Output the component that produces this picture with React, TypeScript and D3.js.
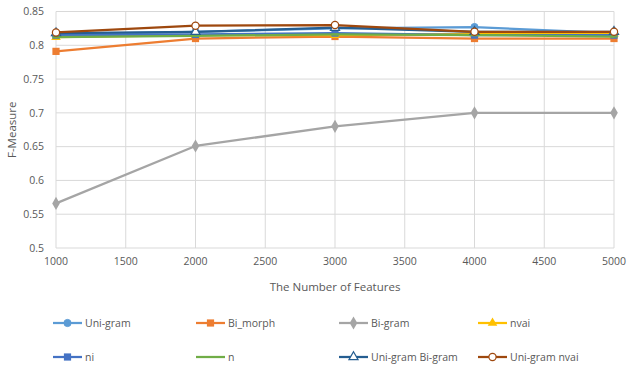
import React, { useRef, useEffect } from 'react';
import * as d3 from 'd3';

const features = [1000, 2000, 3000, 4000, 5000];
const xTicks = [1000, 1500, 2000, 2500, 3000, 3500, 4000, 4500, 5000];
const yTicks = [0.5, 0.55, 0.6, 0.65, 0.7, 0.75, 0.8, 0.85];

const uniGram = [0.816, 0.82, 0.825, 0.827, 0.818];
const biMorph = [0.791, 0.81, 0.813, 0.81, 0.81];
const biGram = [0.566, 0.651, 0.68, 0.7, 0.7];
const nvai = [0.812, 0.815, 0.815, 0.817, 0.817];
const ni = [0.815, 0.816, 0.818, 0.815, 0.815];
const nOnly = [0.812, 0.814, 0.816, 0.815, 0.813];
const uniBi = [0.818, 0.82, 0.826, 0.82, 0.82];
const uniNvai = [0.819, 0.829, 0.83, 0.82, 0.82];

type Marker = 'circle' | 'square' | 'diamond' | 'triangle' | 'dash' | 'triangleOpen' | 'circleOpen';
type Series = { name: string; values: number[]; color: string; marker: Marker };

const series: Series[] = [
  { name: 'Uni-gram', values: uniGram, color: '#5B9BD5', marker: 'circle' },
  { name: 'Bi_morph', values: biMorph, color: '#ED7D31', marker: 'square' },
  { name: 'Bi-gram', values: biGram, color: '#A5A5A5', marker: 'diamond' },
  { name: 'nvai', values: nvai, color: '#FFC000', marker: 'triangle' },
  { name: 'ni', values: ni, color: '#4472C4', marker: 'square' },
  { name: 'n', values: nOnly, color: '#70AD47', marker: 'dash' },
  { name: 'Uni-gram Bi-gram', values: uniBi, color: '#255E91', marker: 'triangleOpen' },
  { name: 'Uni-gram nvai', values: uniNvai, color: '#9E480E', marker: 'circleOpen' },
];

const W = 633;
const H = 372;
const margin = { top: 11.5, right: 19, bottom: 126, left: 56 };
const textColor = '#595959';
const font = '"Open Sans", sans-serif';

function drawMarker(g: d3.Selection<SVGGElement, unknown, null, undefined>, s: Series, x: number, y: number) {
  const c = s.color;
  switch (s.marker) {
    case 'circle':
      g.append('circle').attr('cx', x).attr('cy', y).attr('r', 3.6).attr('fill', c).attr('stroke', c);
      break;
    case 'circleOpen':
      g.append('circle').attr('cx', x).attr('cy', y).attr('r', 3.6).attr('fill', '#fff').attr('stroke', c).attr('stroke-width', 1.2);
      break;
    case 'square':
      g.append('rect').attr('x', x - 3.6).attr('y', y - 3.6).attr('width', 7.2).attr('height', 7.2).attr('fill', c);
      break;
    case 'diamond':
      g.append('path').attr('d', d3.symbol(d3.symbolDiamond, 50)()).attr('transform', `translate(${x},${y})`).attr('fill', c);
      break;
    case 'triangle':
      g.append('path').attr('d', d3.symbol(d3.symbolTriangle, 40)()).attr('transform', `translate(${x},${y})`).attr('fill', c);
      break;
    case 'triangleOpen':
      g.append('path').attr('d', d3.symbol(d3.symbolTriangle, 36)()).attr('transform', `translate(${x},${y})`)
        .attr('fill', '#fff').attr('stroke', c).attr('stroke-width', 1.2);
      break;
    case 'dash':
      g.append('rect').attr('x', x - 3.5).attr('y', y - 1).attr('width', 7).attr('height', 2).attr('fill', c);
      break;
  }
}

const App: React.FC = () => {
  const ref = useRef<SVGSVGElement | null>(null);

  useEffect(() => {
    if (!ref.current) return;
    const svg = d3.select(ref.current);
    svg.selectAll('*').remove();

    const x = d3.scaleLinear().domain([1000, 5000]).range([margin.left, W - margin.right]);
    const y = d3.scaleLinear().domain([0.5, 0.85]).range([H - margin.bottom + 2, margin.top]);

    svg.append('rect').attr('width', W).attr('height', H).attr('fill', '#fff');

    // Gridlines
    const grid = svg.append('g');
    grid.selectAll('line.h').data(yTicks).enter().append('line')
      .attr('x1', x(1000)).attr('x2', x(5000))
      .attr('y1', (d) => y(d)).attr('y2', (d) => y(d))
      .attr('stroke', '#D9D9D9').attr('stroke-width', 1);
    grid.selectAll('line.v').data(xTicks).enter().append('line')
      .attr('x1', (d) => x(d)).attr('x2', (d) => x(d))
      .attr('y1', y(0.85)).attr('y2', y(0.5))
      .attr('stroke', '#D9D9D9').attr('stroke-width', 1);

    // Tick labels
    svg.append('g').selectAll('text').data(yTicks).enter().append('text')
      .attr('x', margin.left - 12).attr('y', (d) => y(d)).attr('dy', '0.35em')
      .attr('text-anchor', 'end').attr('fill', textColor)
      .attr('font-family', font).attr('font-size', 10.5)
      .text((d) => d3.format('')(d));
    svg.append('g').selectAll('text').data(xTicks).enter().append('text')
      .attr('x', (d) => x(d)).attr('y', y(0.5) + 17)
      .attr('text-anchor', 'middle').attr('fill', textColor)
      .attr('font-family', font).attr('font-size', 10.5)
      .text((d) => d);

    // Axis titles
    svg.append('text')
      .attr('x', (x(1000) + x(5000)) / 2).attr('y', 291)
      .attr('text-anchor', 'middle').attr('fill', textColor)
      .attr('font-family', font).attr('font-size', 11.5)
      .text('The Number of Features');
    svg.append('text')
      .attr('transform', `translate(16,${(y(0.5) + y(0.85)) / 2}) rotate(-90)`)
      .attr('text-anchor', 'middle').attr('fill', textColor)
      .attr('font-family', font).attr('font-size', 11.5)
      .text('F-Measure');

    // Series lines and markers
    const line = d3.line<number>()
      .x((_, i) => x(features[i]))
      .y((d) => y(d));
    series.forEach((s) => {
      const g = svg.append('g');
      g.append('path').attr('d', line(s.values) as string)
        .attr('fill', 'none').attr('stroke', s.color).attr('stroke-width', 2.25)
        .attr('stroke-linejoin', 'round');
      s.values.forEach((v, i) => drawMarker(g, s, x(features[i]), y(v)));
    });

    // Legend
    const colX = [53, 196, 339, 478];
    const rowY = [323, 357];
    series.forEach((s, i) => {
      const lx = colX[i % 4];
      const ly = rowY[Math.floor(i / 4)];
      const g = svg.append('g');
      g.append('line').attr('x1', lx).attr('x2', lx + 29).attr('y1', ly).attr('y2', ly)
        .attr('stroke', s.color).attr('stroke-width', 2.25);
      drawMarker(g, s, lx + 14.5, ly);
      g.append('text').attr('x', lx + 32).attr('y', ly).attr('dy', '0.35em')
        .attr('fill', textColor).attr('font-family', font).attr('font-size', 10.5)
        .text(s.name);
    });
  }, []);

  return (
    <svg
      ref={ref}
      width={W}
      height={H}
      style={{ position: 'absolute', left: 0, top: 0, display: 'block' }}
    />
  );
};

export default App;
